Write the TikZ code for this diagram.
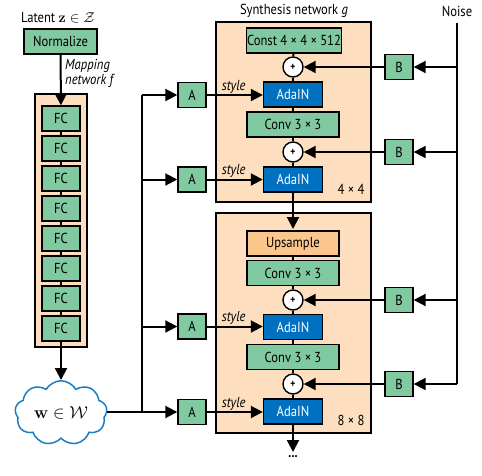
\documentclass[tikz,border=0pt]{standalone}
\usepackage[no-math]{fontspec}
\setmainfont{PT Sans}[FakeStretch=0.87]
\usetikzlibrary{arrows.meta,shapes.symbols}
\definecolor{gfill}{HTML}{80C9A1}
\definecolor{bfill}{HTML}{0070C0}
\definecolor{ofill}{HTML}{FDDEBE}
\definecolor{ufill}{HTML}{FBC68C}
\definecolor{cloudc}{HTML}{1B7EC4}
\begin{document}
\begin{tikzpicture}[x=1pt,y=-1pt,
  font=\fontsize{14.5}{16}\selectfont,
  box/.style={draw=black,line width=1.4pt,inner sep=0pt,minimum height=25pt},
  gbox/.style={box,fill=gfill},
  abox/.style={box,fill=bfill,text=white,minimum width=59pt},
  sbox/.style={gbox,minimum width=28pt},
  cbox/.style={gbox,minimum width=92pt},
  plus/.style={circle,draw=black,line width=1.4pt,fill=white,minimum size=20pt,inner sep=0pt,font=\fontsize{11}{11}\selectfont\bfseries},
  blk/.style={draw=black,line width=1.4pt,fill=ofill},
  ln/.style={line width=2pt},
  arr/.style={line width=2pt,-{Triangle[length=12pt,width=12pt]}},
  lbl/.style={font=\fontsize{14.5}{16}\selectfont\itshape,inner sep=1pt}
]
\useasboundingbox (0,0) rectangle (482,475);

% titles
\node (latent) at (58,18) {Latent $\mathbf{z}\in\mathcal{Z}$};
\node (synt) at (294,11) {Synthesis network \textit{g}};
\node (noise) at (457,11) {Noise};

% mapping network
\draw[blk] (35,94) rectangle (87,347);
\node[gbox,minimum width=73pt] (norm) at (60.5,41.5) {Normalize};
\node[lbl,anchor=west] (mapa) at (64,66) {Mapping};
\node[lbl,anchor=west] (mapb) at (64,81) {network f};
\foreach \i in {1,...,8}{
  \node[gbox,minimum width=38pt] (fc\i) at (61,{118.5+30*(\i-1)}) {FC};
}
\foreach \i/\j in {1/2,2/3,3/4,4/5,5/6,6/7,7/8}{
  \draw[ln] (fc\i) -- (fc\j);
}
\draw[arr] (norm) -- (fc1);
\node[cloud,cloud puffs=9,cloud puff arc=120,aspect=1.45,draw=cloudc,line width=1.5pt,fill=white,minimum width=92pt,minimum height=62pt,inner sep=0pt,font=\fontsize{16}{18}\selectfont] (cloud) at (61,413) {$\mathbf{w}\in\mathcal{W}$};
\draw[arr] (fc8) -- (cloud);

% synthesis blocks
\draw[blk] (216,22) rectangle (371,202);
\draw[blk] (216,213) rectangle (371,433);
\node (r4) at (351,189) {4 × 4};
\node (r8) at (351,420) {8 × 8};

\node[gbox,minimum width=95pt] (const) at (294,40.5) {Const 4 × 4 × 512};
\node[plus] (p1) at (293,67) {+};
\node[abox] (ad1) at (293,94.5) {AdaIN};
\node[cbox] (cv1) at (293,124.5) {Conv 3 × 3};
\node[plus] (p2) at (293,152) {+};
\node[abox] (ad2) at (293,179.5) {AdaIN};

\node[box,fill=ufill,minimum width=92pt] (up) at (293,243.5) {Upsample};
\node[cbox] (cv2) at (293,273) {Conv 3 × 3};
\node[plus] (p3) at (293,300) {+};
\node[abox] (ad3) at (293,327) {AdaIN};
\node[cbox] (cv3) at (293,357) {Conv 3 × 3};
\node[plus] (p4) at (293,384) {+};
\node[abox] (ad4) at (293,411.5) {AdaIN};

\draw[ln] (const) -- (p1);
\draw[ln] (p1) -- (ad1);
\draw[ln] (ad1) -- (cv1);
\draw[ln] (cv1) -- (p2);
\draw[ln] (p2) -- (ad2);
\draw[arr] (ad2) -- (293,229);
\draw[ln] (up) -- (cv2);
\draw[ln] (cv2) -- (p3);
\draw[ln] (p3) -- (ad3);
\draw[ln] (ad3) -- (cv3);
\draw[ln] (cv3) -- (p4);
\draw[ln] (p4) -- (ad4);
\coordinate (out) at (293,452);
\draw[arr] (ad4) -- (out);
\node[font=\fontsize{14}{14}\selectfont\bfseries,inner sep=0pt] (dots) at (293,457) {...};

% A boxes
\node[sbox] (a1) at (192,95) {A};
\node[sbox] (a2) at (192,179.5) {A};
\node[sbox] (a3) at (192,326.5) {A};
\node[sbox] (a4) at (192,412) {A};
\coordinate (wtop) at (142,95);
\coordinate (wbot) at (142,412);
\draw[ln] (cloud.east |- wbot) -- (wbot);
\draw[ln] (wbot) -- (wtop);
\foreach \k in {1,2,3,4}{
  \draw[arr] (a\k.west -| wtop) -- (a\k.west);
}
\foreach \k in {1,2,3,4}{
  \draw[arr] (a\k.east) -- node[lbl,above,pos=0.48] {style} (ad\k.west |- a\k.east);
}

% B boxes
\node[sbox] (b1) at (399,67) {B};
\node[sbox] (b2) at (399,152) {B};
\node[sbox] (b3) at (399,300) {B};
\node[sbox] (b4) at (399,384) {B};
\coordinate (ntop) at (457,23);
\coordinate (nbot) at (457,384);
\draw[ln] (ntop) -- (nbot);
\foreach \k in {1,2,3,4}{
  \draw[arr] (b\k.east -| ntop) -- (b\k.east);
  \draw[arr] (b\k.west) -- (p\k.east);
}
\end{tikzpicture}
\end{document}
